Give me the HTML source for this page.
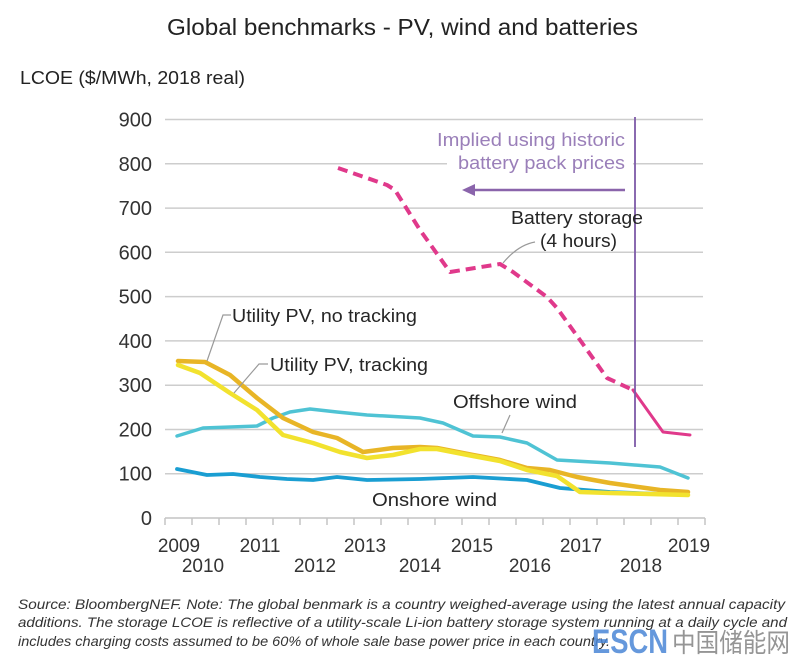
<!DOCTYPE html>
<html>
<head>
<meta charset="utf-8">
<style>
  html, body { margin:0; padding:0; background:#ffffff; }
  body { width:800px; height:661px; overflow:hidden; }
  svg { display:block; }
  text { font-family: "Liberation Sans", "Noto Sans CJK SC", sans-serif; }
</style>
</head>
<body>
<svg width="800" height="661" viewBox="0 0 800 661" xmlns="http://www.w3.org/2000/svg">
  <rect x="0" y="0" width="800" height="661" fill="#ffffff"/>

  <!-- Title -->
  <text x="167" y="35" font-size="23" fill="#222" textLength="471" lengthAdjust="spacingAndGlyphs">Global benchmarks - PV, wind and batteries</text>

  <!-- Y axis title -->
  <text x="20" y="84" font-size="18" fill="#222" textLength="225" lengthAdjust="spacingAndGlyphs">LCOE ($/MWh, 2018 real)</text>

  <!-- Gridlines -->
  <g stroke="#cdcdcd" stroke-width="1.5">
    <line x1="165" y1="119.5" x2="703" y2="119.5"/>
    <line x1="165" y1="163.8" x2="703" y2="163.8"/>
    <line x1="165" y1="208.1" x2="703" y2="208.1"/>
    <line x1="165" y1="252.3" x2="703" y2="252.3"/>
    <line x1="165" y1="296.6" x2="703" y2="296.6"/>
    <line x1="165" y1="340.9" x2="703" y2="340.9"/>
    <line x1="165" y1="385.2" x2="703" y2="385.2"/>
    <line x1="165" y1="429.5" x2="703" y2="429.5"/>
    <line x1="165" y1="473.7" x2="703" y2="473.7"/>
  </g>

  <!-- X axis -->
  <g stroke="#c4c4c4" stroke-width="1.5">
    <line x1="165" y1="518" x2="705" y2="518"/>
    <line x1="165" y1="518" x2="165" y2="525"/>
    <line x1="192" y1="518" x2="192" y2="525"/>
    <line x1="219" y1="518" x2="219" y2="525"/>
    <line x1="246" y1="518" x2="246" y2="525"/>
    <line x1="273" y1="518" x2="273" y2="525"/>
    <line x1="300" y1="518" x2="300" y2="525"/>
    <line x1="327" y1="518" x2="327" y2="525"/>
    <line x1="354" y1="518" x2="354" y2="525"/>
    <line x1="381" y1="518" x2="381" y2="525"/>
    <line x1="408" y1="518" x2="408" y2="525"/>
    <line x1="435" y1="518" x2="435" y2="525"/>
    <line x1="462" y1="518" x2="462" y2="525"/>
    <line x1="489" y1="518" x2="489" y2="525"/>
    <line x1="516" y1="518" x2="516" y2="525"/>
    <line x1="543" y1="518" x2="543" y2="525"/>
    <line x1="570" y1="518" x2="570" y2="525"/>
    <line x1="597" y1="518" x2="597" y2="525"/>
    <line x1="624" y1="518" x2="624" y2="525"/>
    <line x1="651" y1="518" x2="651" y2="525"/>
    <line x1="678" y1="518" x2="678" y2="525"/>
    <line x1="705" y1="518" x2="705" y2="525"/>
  </g>

  <!-- Y tick labels -->
  <g font-size="20" fill="#333" text-anchor="end">
    <text x="152" y="126.5">900</text>
    <text x="152" y="170.8">800</text>
    <text x="152" y="215.1">700</text>
    <text x="152" y="259.3">600</text>
    <text x="152" y="303.6">500</text>
    <text x="152" y="347.9">400</text>
    <text x="152" y="392.2">300</text>
    <text x="152" y="436.5">200</text>
    <text x="152" y="480.7">100</text>
    <text x="152" y="525">0</text>
  </g>

  <!-- X tick labels -->
  <g font-size="19" fill="#333" text-anchor="middle">
    <text x="179" y="552">2009</text>
    <text x="203" y="572">2010</text>
    <text x="260" y="552">2011</text>
    <text x="315" y="572">2012</text>
    <text x="365" y="552">2013</text>
    <text x="420" y="572">2014</text>
    <text x="472" y="552">2015</text>
    <text x="530" y="572">2016</text>
    <text x="581" y="552">2017</text>
    <text x="641" y="572">2018</text>
    <text x="689" y="552">2019</text>
  </g>

  <!-- Purple annotation -->
  <rect x="447" y="125" width="186" height="50" fill="#ffffff"/>
  <text x="625" y="146" font-size="18" fill="#9a7fb9" text-anchor="end" textLength="188" lengthAdjust="spacingAndGlyphs">Implied using historic</text>
  <text x="625" y="169" font-size="18" fill="#9a7fb9" text-anchor="end" textLength="167" lengthAdjust="spacingAndGlyphs">battery pack prices</text>
  <line x1="625" y1="190" x2="472" y2="190" stroke="#8a64ab" stroke-width="2.5"/>
  <polygon points="462,190 475,184 475,196" fill="#8a64ab"/>

  <!-- Series: Offshore wind -->
  <polyline fill="none" stroke="#4fc3d4" stroke-width="3.5" stroke-linejoin="round" stroke-linecap="round"
    points="177,436 203,428 257,426 273,418 290,412 310,409 337,412 367,415 420,418 443,423 473,436 500,437 527,443 557,460 610,463 660,467 688,478"/>

  <!-- Series: Onshore wind -->
  <polyline fill="none" stroke="#1a9ed2" stroke-width="3.8" stroke-linejoin="round" stroke-linecap="round"
    points="177,469 207,475 233,474 260,477 287,479 313,480 337,477 367,480 420,479 473,477 527,480 560,488 610,492 660,494 684,494"/>

  <!-- Series: Utility PV, no tracking -->
  <polyline fill="none" stroke="#e8b526" stroke-width="4.5" stroke-linejoin="round" stroke-linecap="round"
    points="178,361 205,362 230,375 257,398 283,418 313,432 337,438 363,452 393,448 420,447 437,448 473,455 500,460 527,468 550,470 577,477 610,483 660,490 688,492"/>

  <!-- Series: Utility PV, tracking -->
  <polyline fill="none" stroke="#f2e22e" stroke-width="4.5" stroke-linejoin="round" stroke-linecap="round"
    points="178,365 200,373 230,393 257,410 283,435 313,443 340,452 367,458 393,455 420,449 437,449 473,456 500,461 527,470 557,476 580,492 610,493 688,495"/>

  <!-- Series: Battery storage dashed -->
  <polyline fill="none" stroke="#e0398b" stroke-width="4" stroke-dasharray="10,6" stroke-linejoin="round"
    points="338,168 367,178 387,185 395,190 420,230 450,272 500,264 513,272 547,297 557,308 580,340 607,378 633,390"/>
  <!-- Battery solid -->
  <polyline fill="none" stroke="#e0398b" stroke-width="3" stroke-linejoin="round" stroke-linecap="round"
    points="633,390 663,432 690,435"/>

  <!-- Purple vertical line -->
  <line x1="635" y1="117" x2="635" y2="447" stroke="#7d5aa8" stroke-width="1.8"/>

  <!-- Leader lines -->
  <g fill="none" stroke="#9a9a9a" stroke-width="1.2">
    <polyline points="231,315 223,315 207,361"/>
    <polyline points="268,364 259,364 234,393"/>
    <path d="M 535 242 Q 518 245 503 263"/>
    <polyline points="510,415 502,433"/>
  </g>

  <!-- Series labels -->
  <g font-size="18" fill="#262626">
    <text x="511" y="224" textLength="132" lengthAdjust="spacingAndGlyphs">Battery storage</text>
    <text x="540" y="247" textLength="77" lengthAdjust="spacingAndGlyphs">(4 hours)</text>
    <text x="232" y="322" textLength="185" lengthAdjust="spacingAndGlyphs">Utility PV, no tracking</text>
    <text x="270" y="371" textLength="158" lengthAdjust="spacingAndGlyphs">Utility PV, tracking</text>
    <text x="453" y="408" textLength="124" lengthAdjust="spacingAndGlyphs">Offshore wind</text>
    <text x="372" y="506" textLength="125" lengthAdjust="spacingAndGlyphs">Onshore wind</text>
  </g>

  <!-- Footer -->
  <g font-size="14" font-style="italic" fill="#333">
    <text x="18" y="609" textLength="767" lengthAdjust="spacingAndGlyphs">Source: BloombergNEF. Note: The global benmark is a country weighed-average using the latest annual capacity</text>
    <text x="18" y="627" textLength="769" lengthAdjust="spacingAndGlyphs">additions. The storage LCOE is reflective of a utility-scale Li-ion battery storage system running at a daily cycle and</text>
    <text x="18" y="646" textLength="592" lengthAdjust="spacingAndGlyphs">includes charging costs assumed to be 60% of whole sale base power price in each country.</text>
  </g>

  <!-- Watermark -->
  <text x="592" y="653" font-size="34" font-weight="bold" fill="#4a86d6" fill-opacity="0.85" textLength="76" lengthAdjust="spacingAndGlyphs">ESCN</text>
  <text x="672" y="652" font-size="26" fill="#8a8a8a" fill-opacity="0.9" textLength="118" lengthAdjust="spacingAndGlyphs" style="font-family:'Noto Sans CJK SC', sans-serif;">中国储能网</text>
</svg>
</body>
</html>
